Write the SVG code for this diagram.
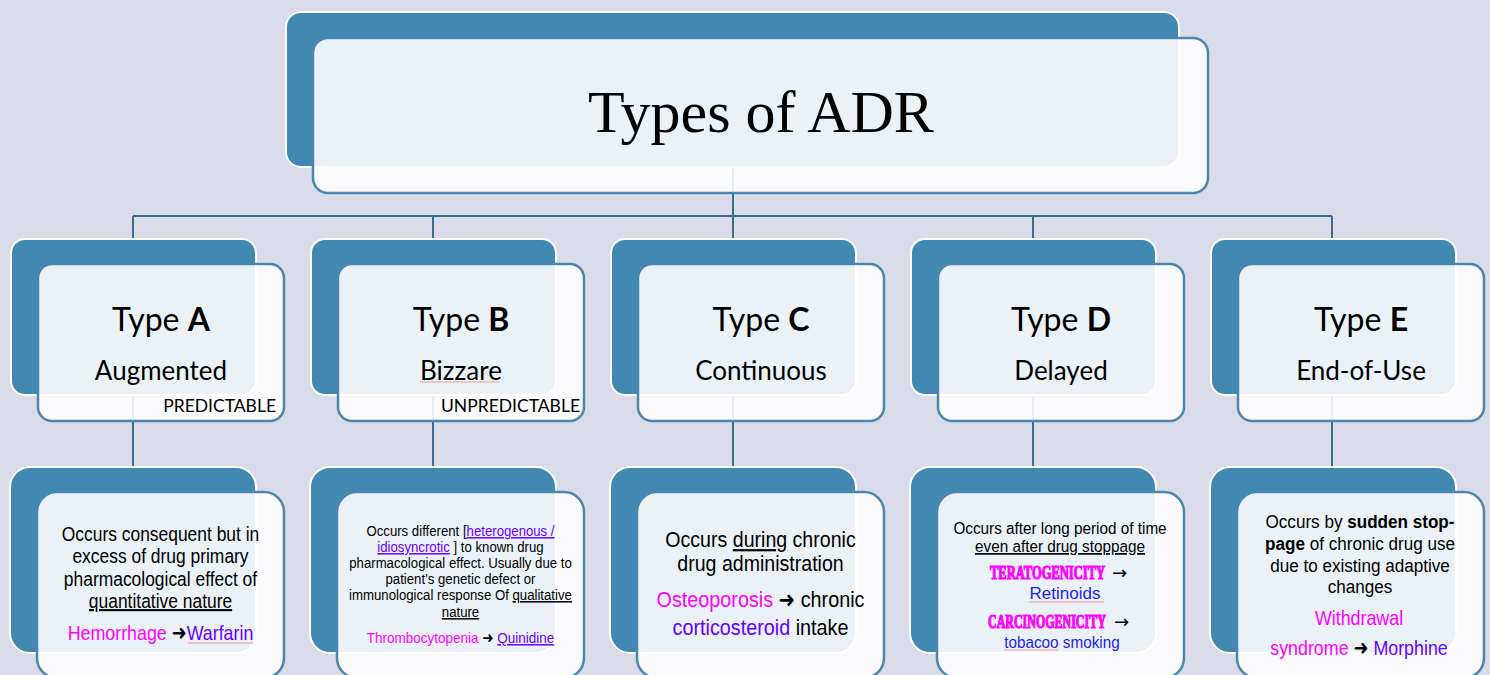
<svg xmlns="http://www.w3.org/2000/svg" width="1490" height="675" viewBox="0 0 1490 675">
<style>
.back{fill:#4189B3;stroke:#FFFFFF;stroke-width:2}
.front{fill:#FFFFFF;fill-opacity:0.89;stroke:#4A86AF;stroke-width:2.5}
.conn{stroke:#3B6D8F;stroke-width:2;fill:none}
.title{font-family:"Liberation Serif",serif;font-size:60px;fill:#000}
.ty{font-family:Lato,"Open Sans",sans-serif;font-size:32px;fill:#000}
.sub{font-family:Lato,"Open Sans",sans-serif;font-size:26px;fill:#000}
.pred{font-family:Lato,"Open Sans",sans-serif;font-size:17.5px;fill:#000}
.b{font-family:"Liberation Sans",Arial,"DejaVu Sans",sans-serif;fill:#000}
.arr{font-family:"DejaVu Sans",sans-serif;fill:#000}
.mag{fill:#FF00FF}
.pur{fill:#6600FF}
.blu{fill:#1E1EF0}
.u{text-decoration:underline}
.sq{stroke:#F19A9A;stroke-width:1.2;fill:none}
.imp{font-family:"Liberation Serif",serif;font-weight:bold;fill:#FF00FF;stroke:#FF00FF;stroke-width:1.2}
</style>
<rect width="1490" height="675" fill="#D9DBE8"/>

<g id="connectors">
  <path class="conn" d="M733 100 V216 M133 216 H1332 M133 216 V470 M433 216 V470 M733 216 V470 M1033 216 V470 M1332 216 V470"/>
</g>

<g id="title">
  <rect class="back" x="286" y="12" width="893" height="155" rx="15"/>
  <rect class="front" x="313" y="38" width="895" height="155" rx="15"/>
  <text class="title" x="761" y="132" text-anchor="middle">Types of ADR</text>
</g>

<g id="typeA">
  <rect class="back" x="11" y="239" width="245" height="156" rx="14"/>
  <rect class="front" x="38" y="264" width="246" height="157" rx="14"/>
  <text class="ty" x="161" y="331" text-anchor="middle">Type <tspan font-weight="bold">A</tspan></text>
  <text class="sub" x="161" y="380" text-anchor="middle">Augmented</text>
  <text class="pred" x="276" y="412" text-anchor="end">PREDICTABLE</text>
</g>
<g id="typeB">
  <rect class="back" x="311" y="239" width="245" height="156" rx="14"/>
  <rect class="front" x="338" y="264" width="246" height="157" rx="14"/>
  <text class="ty" x="461" y="331" text-anchor="middle">Type <tspan font-weight="bold">B</tspan></text>
  <text class="sub" x="461" y="380" text-anchor="middle">Bizzare</text>
  <path class="sq" d="M420 382 H500"/>
  <text class="pred" x="580" y="412" text-anchor="end">UNPREDICTABLE</text>
</g>
<g id="typeC">
  <rect class="back" x="611" y="239" width="245" height="156" rx="14"/>
  <rect class="front" x="638" y="264" width="246" height="157" rx="14"/>
  <text class="ty" x="761" y="331" text-anchor="middle">Type <tspan font-weight="bold">C</tspan></text>
  <text class="sub" x="761" y="380" text-anchor="middle">Continuous</text>
</g>
<g id="typeD">
  <rect class="back" x="911" y="239" width="245" height="156" rx="14"/>
  <rect class="front" x="938" y="264" width="246" height="157" rx="14"/>
  <text class="ty" x="1061" y="331" text-anchor="middle">Type <tspan font-weight="bold">D</tspan></text>
  <text class="sub" x="1061" y="380" text-anchor="middle">Delayed</text>
</g>
<g id="typeE">
  <rect class="back" x="1211" y="239" width="245" height="156" rx="14"/>
  <rect class="front" x="1238" y="264" width="246" height="157" rx="14"/>
  <text class="ty" x="1361" y="331" text-anchor="middle">Type <tspan font-weight="bold">E</tspan></text>
  <text class="sub" x="1361" y="380" text-anchor="middle">End-of-Use</text>
</g>

<g id="descA">
  <rect class="back" x="10" y="467" width="246" height="186" rx="20"/>
  <rect class="front" x="37" y="492" width="247" height="186" rx="20"/>
  <g class="b" font-size="21" text-anchor="middle">
    <text transform="translate(160.5 541) scale(0.83 1)">Occurs consequent but in</text>
    <text transform="translate(160.5 563) scale(0.83 1)">excess of drug primary</text>
    <text transform="translate(160.5 586) scale(0.83 1)">pharmacological effect of</text>
    <text transform="translate(160.5 608) scale(0.83 1)"><tspan class="u">quantitative nature</tspan></text>
    <text transform="translate(160.5 640) scale(0.85 1)"><tspan class="mag">Hemorrhage </tspan>➜<tspan class="pur">Warfarin</tspan></text>
  </g>
  <path class="sq" d="M188 643 H253"/>
</g>

<g id="descB">
  <rect class="back" x="310" y="467" width="246" height="186" rx="20"/>
  <rect class="front" x="337" y="492" width="247" height="186" rx="20"/>
  <g class="b" font-size="15" text-anchor="middle">
    <text transform="translate(460.5 536) scale(0.88 1)">Occurs different [<tspan class="pur u">heterogenous /</tspan></text>
    <text transform="translate(460.5 552) scale(0.88 1)"><tspan class="pur u">idiosyncrotic</tspan> ] to known drug</text>
    <text transform="translate(460.5 568) scale(0.88 1)">pharmacological effect. Usually due to</text>
    <text transform="translate(460.5 584) scale(0.88 1)">patient’s genetic defect or</text>
    <text transform="translate(460.5 600) scale(0.88 1)">immunological response Of <tspan class="u">qualitative</tspan></text>
    <text transform="translate(460.5 617) scale(0.88 1)"><tspan class="u">nature</tspan></text>
    <text transform="translate(460.5 643) scale(0.9 1)"><tspan class="mag">Thrombocytopenia</tspan> ➜ <tspan class="pur u">Quinidine</tspan></text>
  </g>
</g>

<g id="descC">
  <rect class="back" x="610" y="467" width="246" height="186" rx="20"/>
  <rect class="front" x="637" y="492" width="247" height="186" rx="20"/>
  <g class="b" font-size="22" text-anchor="middle">
    <text transform="translate(760.5 547) scale(0.89 1)">Occurs <tspan class="u">during</tspan> chronic</text>
    <text transform="translate(760.5 571) scale(0.89 1)">drug administration</text>
    <text transform="translate(760.5 607) scale(0.9 1)"><tspan class="mag">Osteoporosis</tspan> ➜ chronic</text>
    <text transform="translate(760.5 635) scale(0.9 1)"><tspan class="pur">corticosteroid</tspan> intake</text>
  </g>
</g>

<g id="descD">
  <rect class="back" x="910" y="467" width="246" height="186" rx="20"/>
  <rect class="front" x="937" y="492" width="247" height="186" rx="20"/>
  <g class="b" font-size="17" text-anchor="middle">
    <text transform="translate(1060 534) scale(0.9 1)">Occurs after long period of time</text>
    <text transform="translate(1060 552) scale(0.9 1)"><tspan class="u">even after drug stoppage</tspan></text>
  </g>
  <text class="imp" transform="translate(990 579) scale(0.65 1)" font-size="19" textLength="177" lengthAdjust="spacingAndGlyphs">TERATOGENICITY</text>
  <text class="arr" x="1112" y="579" font-size="18">→</text>
  <text class="b blu" x="1065" y="599" font-size="17" text-anchor="middle">Retinoids</text>
  <path class="sq" d="M1029 602 H1104"/>
  <text class="imp" transform="translate(988 628) scale(0.62 1)" font-size="19" textLength="190" lengthAdjust="spacingAndGlyphs">CARCINOGENICITY</text>
  <text class="arr" x="1114" y="628" font-size="18">→</text>
  <text class="b blu" transform="translate(1062 648) scale(0.9 1)" font-size="17" text-anchor="middle">tobacoo smoking</text>
  <path class="sq" d="M1004 650 H1058"/>
</g>

<g id="descE">
  <rect class="back" x="1210" y="467" width="246" height="186" rx="20"/>
  <rect class="front" x="1237" y="492" width="247" height="186" rx="20"/>
  <g class="b" font-size="19" text-anchor="middle">
    <text transform="translate(1360 528) scale(0.9 1)">Occurs by <tspan font-weight="bold">sudden stop-</tspan></text>
    <text transform="translate(1360 550) scale(0.9 1)"><tspan font-weight="bold">page</tspan> of chronic drug use</text>
    <text transform="translate(1360 572) scale(0.9 1)">due to existing adaptive</text>
    <text transform="translate(1360 593) scale(0.9 1)">changes</text>
  </g>
  <g class="b" font-size="21" text-anchor="middle">
    <text class="mag" transform="translate(1359 625) scale(0.85 1)">Withdrawal</text>
    <text transform="translate(1359 655) scale(0.85 1)"><tspan class="mag">syndrome</tspan> ➜ <tspan class="pur">Morphine</tspan></text>
  </g>
</g>
</svg>
